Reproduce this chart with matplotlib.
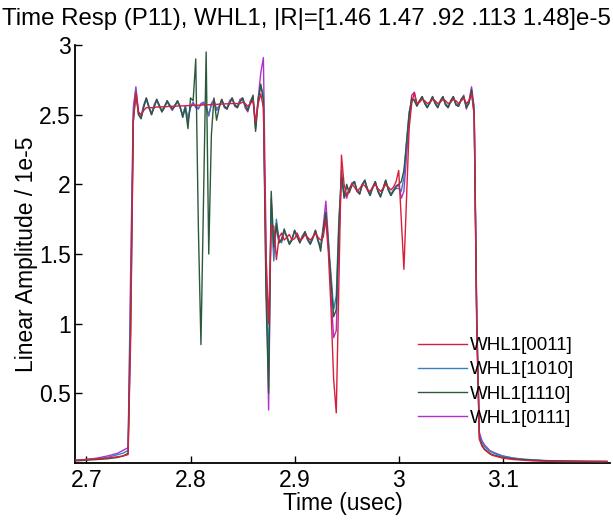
import matplotlib
matplotlib.use("Agg")
import matplotlib.pyplot as plt

plt.rcParams['font.family'] = ['Liberation Sans', 'DejaVu Sans']

TITLE = "Time Resp (P11), WHL1, |R|=[1.46 1.47 .92 .113 1.48]e-5"
XLABEL = "Time (usec)"
YLABEL = "Linear Amplitude / 1e-5"
LABELS = ["WHL1[0011]", "WHL1[1010]", "WHL1[1110]", "WHL1[0111]"]
COLORS = ["#d81e3c", "#3480c0", "#2a5a3a", "#b030cc"]
XTICKS = [2.7, 2.8, 2.9, 3.0, 3.1]
XTICKLABELS = ["2.7", "2.8", "2.9", "3", "3.1"]
YTICKS = [0.5, 1.0, 1.5, 2.0, 2.5, 3.0]
YTICKLABELS = ["0.5", "1", "1.5", "2", "2.5", "3"]

time_us = [
    2.69, 2.70, 2.71, 2.72, 2.73, 2.735, 2.74,
    2.7425, 2.745, 2.7475, 2.75, 2.7525, 2.755, 2.7575, 2.76, 2.7625, 2.765,
    2.7675, 2.77, 2.7725, 2.775, 2.7775, 2.78, 2.7825, 2.785, 2.7875, 2.79,
    2.7925, 2.795, 2.7975, 2.80, 2.8025, 2.805, 2.8075, 2.81, 2.8125, 2.815,
    2.8175, 2.82, 2.8225, 2.825, 2.8275, 2.83, 2.8325, 2.835, 2.8375, 2.84,
    2.8425, 2.845, 2.8475, 2.85, 2.8525, 2.855, 2.8575, 2.86, 2.8625, 2.865,
    2.8675, 2.87, 2.8725, 2.875, 2.8775, 2.88, 2.8825, 2.885, 2.8875, 2.89,
    2.8925, 2.895, 2.8975, 2.90, 2.9025, 2.905, 2.9075, 2.91, 2.9125, 2.915,
    2.9175, 2.92, 2.9225, 2.925, 2.9275, 2.93, 2.9325, 2.935, 2.9375, 2.94,
    2.9425, 2.945, 2.9475, 2.95, 2.9525, 2.955, 2.9575, 2.96, 2.9625, 2.965,
    2.9675, 2.97, 2.9725, 2.975, 2.9775, 2.98, 2.9825, 2.985, 2.9875, 2.99,
    2.9925, 2.995, 2.9975, 3.00, 3.0025, 3.005, 3.0075, 3.01, 3.0125, 3.015,
    3.0175, 3.02, 3.0225, 3.025, 3.0275, 3.03, 3.0325, 3.035, 3.0375, 3.04,
    3.0425, 3.045, 3.0475, 3.05, 3.0525, 3.055, 3.0575, 3.06, 3.0625, 3.065,
    3.0675, 3.07, 3.0725, 3.075, 3.0775, 3.08, 3.0825, 3.085, 3.0875, 3.09,
    3.095, 3.10, 3.11, 3.12, 3.13, 3.14, 3.16, 3.18, 3.20,
]

whl1_0011 = [
    0.02, 0.025, 0.03, 0.035, 0.045, 0.05, 0.06,
    0.90, 2.45, 2.66, 2.52, 2.50, 2.53, 2.55, 2.55, 2.55, 2.55,
    2.555, 2.555, 2.556, 2.557, 2.558, 2.56, 2.56, 2.561, 2.562, 2.563,
    2.563, 2.564, 2.565, 2.566, 2.567, 2.568, 2.568, 2.569, 2.57, 2.57,
    2.571, 2.572, 2.573, 2.574, 2.575, 2.576, 2.577, 2.578, 2.58, 2.58,
    2.58, 2.58, 2.58, 2.59, 2.58, 2.56, 2.58, 2.60, 2.45, 2.58,
    2.65, 2.55, 1.50, 1.00, 1.70, 1.70, 1.46, 1.62, 1.65, 1.60,
    1.62, 1.64, 1.60, 1.61, 1.65, 1.60, 1.61, 1.64, 1.62, 1.60,
    1.62, 1.65, 1.62, 1.60, 1.62, 1.75, 1.50, 1.10, 0.60, 0.36,
    1.30, 2.21, 2.00, 1.92, 1.97, 2.00, 1.98, 1.95, 1.97, 2.00,
    1.99, 1.96, 1.95, 1.98, 2.00, 1.97, 1.95, 1.97, 2.00, 1.98,
    1.96, 1.98, 2.02, 2.10, 1.75, 1.39, 1.90, 2.40, 2.58, 2.66,
    2.58, 2.59, 2.61, 2.60, 2.58, 2.59, 2.61, 2.60, 2.58, 2.59,
    2.61, 2.60, 2.58, 2.59, 2.61, 2.60, 2.58, 2.60, 2.62, 2.58,
    2.60, 2.65, 2.50, 0.95, 0.17, 0.12, 0.095, 0.08, 0.065, 0.055,
    0.045, 0.035, 0.025, 0.02, 0.015, 0.013, 0.01, 0.01, 0.01,
]

whl1_1010 = [
    0.02, 0.025, 0.03, 0.04, 0.06, 0.07, 0.09,
    1.20, 2.50, 2.68, 2.50, 2.48, 2.56, 2.61, 2.55, 2.51, 2.56,
    2.60, 2.56, 2.53, 2.56, 2.59, 2.56, 2.54, 2.57, 2.59, 2.55,
    2.50, 2.56, 2.47, 2.55, 2.58, 2.56, 2.55, 2.57, 2.58, 2.56,
    2.50, 2.57, 2.60, 2.54, 2.56, 2.60, 2.56, 2.55, 2.59, 2.61,
    2.57, 2.56, 2.60, 2.61, 2.56, 2.54, 2.59, 2.62, 2.42, 2.62,
    2.70, 2.65, 1.30, 0.70, 1.85, 1.45, 1.75, 1.60, 1.58, 1.66,
    1.63, 1.58, 1.61, 1.66, 1.62, 1.59, 1.63, 1.65, 1.60, 1.58,
    1.62, 1.66, 1.59, 1.55, 1.66, 1.78, 1.58, 1.35, 1.10, 1.20,
    1.75, 2.05, 1.92, 1.98, 1.95, 2.00, 2.01, 1.96, 1.94, 1.99,
    2.02, 1.97, 1.93, 1.97, 2.01, 1.96, 1.92, 1.96, 2.02, 1.97,
    1.93, 1.96, 1.97, 1.97, 1.95, 2.05, 2.30, 2.52, 2.60, 2.61,
    2.57, 2.59, 2.62, 2.59, 2.56, 2.58, 2.62, 2.59, 2.56, 2.59,
    2.62, 2.58, 2.56, 2.59, 2.62, 2.58, 2.57, 2.60, 2.62, 2.56,
    2.59, 2.66, 2.55, 1.05, 0.20, 0.15, 0.12, 0.10, 0.085, 0.075,
    0.06, 0.05, 0.035, 0.028, 0.022, 0.018, 0.014, 0.012, 0.01,
]

whl1_1110 = [
    0.015, 0.02, 0.025, 0.03, 0.04, 0.05, 0.07,
    1.00, 2.45, 2.65, 2.50, 2.47, 2.55, 2.62, 2.56, 2.50, 2.55,
    2.61, 2.57, 2.52, 2.55, 2.60, 2.57, 2.54, 2.56, 2.60, 2.56,
    2.48, 2.55, 2.40, 2.62, 2.60, 2.90, 1.70, 0.85, 1.90, 2.95,
    1.50, 2.35, 2.62, 2.46, 2.55, 2.61, 2.56, 2.54, 2.58, 2.62,
    2.57, 2.55, 2.59, 2.62, 2.57, 2.53, 2.58, 2.64, 2.38, 2.60,
    2.72, 2.60, 1.20, 0.50, 1.95, 1.55, 1.72, 1.58, 1.60, 1.68,
    1.62, 1.57, 1.60, 1.67, 1.63, 1.58, 1.62, 1.66, 1.61, 1.57,
    1.61, 1.67, 1.60, 1.52, 1.68, 1.80, 1.55, 1.30, 1.05, 1.10,
    1.70, 2.10, 1.90, 2.00, 1.94, 1.99, 2.02, 1.95, 1.93, 2.00,
    2.03, 1.96, 1.92, 1.98, 2.02, 1.95, 1.91, 1.97, 2.03, 1.96,
    1.92, 1.95, 1.98, 2.00, 2.02, 2.10, 2.30, 2.50, 2.62, 2.60,
    2.56, 2.60, 2.63, 2.58, 2.55, 2.59, 2.63, 2.58, 2.55, 2.60,
    2.63, 2.57, 2.55, 2.60, 2.63, 2.57, 2.56, 2.61, 2.63, 2.55,
    2.58, 2.68, 2.50, 1.00, 0.18, 0.13, 0.10, 0.085, 0.07, 0.06,
    0.05, 0.04, 0.03, 0.024, 0.02, 0.017, 0.014, 0.012, 0.012,
]

whl1_0111 = [
    0.02, 0.025, 0.035, 0.05, 0.07, 0.09, 0.11,
    1.40, 2.55, 2.70, 2.52, 2.49, 2.57, 2.62, 2.55, 2.50, 2.57,
    2.61, 2.56, 2.52, 2.56, 2.60, 2.56, 2.53, 2.57, 2.60, 2.55,
    2.49, 2.56, 2.45, 2.56, 2.59, 2.55, 2.54, 2.58, 2.59, 2.55,
    2.49, 2.58, 2.61, 2.53, 2.56, 2.61, 2.55, 2.54, 2.60, 2.62,
    2.56, 2.55, 2.61, 2.62, 2.55, 2.52, 2.60, 2.63, 2.40, 2.62,
    2.80, 2.91, 1.60, 0.38, 1.90, 1.50, 1.70, 1.58, 1.61, 1.67,
    1.62, 1.57, 1.61, 1.67, 1.62, 1.58, 1.63, 1.66, 1.60, 1.57,
    1.62, 1.67, 1.60, 1.55, 1.70, 1.88, 1.60, 1.20, 0.90, 0.95,
    1.60, 2.05, 1.95, 1.90, 1.96, 2.01, 2.02, 1.95, 1.93, 2.00,
    2.03, 1.96, 1.92, 1.98, 2.02, 1.95, 1.91, 1.97, 2.03, 1.96,
    1.92, 1.96, 1.99, 2.00, 1.90, 1.95, 2.20, 2.45, 2.64, 2.66,
    2.57, 2.60, 2.63, 2.58, 2.55, 2.59, 2.63, 2.58, 2.55, 2.60,
    2.63, 2.57, 2.55, 2.60, 2.63, 2.57, 2.56, 2.61, 2.64, 2.54,
    2.60, 2.70, 2.55, 1.02, 0.22, 0.16, 0.13, 0.11, 0.09, 0.08,
    0.065, 0.05, 0.035, 0.025, 0.02, 0.016, 0.013, 0.011, 0.01,
]

SERIES = [whl1_0011, whl1_1010, whl1_1110, whl1_0111]
DRAW_ORDER = [3, 1, 2, 0]

W, H = 613, 523
fig = plt.figure(figsize=(W / 100, H / 100), dpi=100)
ax = fig.add_axes([75 / W, 1 - 463 / H, (610 - 75) / W, (463 - 45) / H])

handles = [None] * 4
for k in DRAW_ORDER:
    (ln,) = ax.plot(time_us, SERIES[k], color=COLORS[k], lw=1.0, label=LABELS[k],
                    zorder=2 + DRAW_ORDER.index(k))
    handles[k] = ln

ax.set_xlim(2.689, 3.203)
ax.set_ylim(0, 3)
ax.set_xticks(XTICKS)
ax.set_xticklabels(XTICKLABELS)
ax.set_yticks(YTICKS)
ax.set_yticklabels(YTICKLABELS)
ax.spines['top'].set_visible(False)
ax.spines['right'].set_visible(False)
for s in ('left', 'bottom'):
    ax.spines[s].set_linewidth(1.3)
ax.tick_params(axis='both', direction='in', length=5, width=1, labelsize=16.5)
ax.tick_params(axis='x', pad=4)
ax.tick_params(axis='y', pad=3)

ax.set_xlabel(XLABEL, fontsize=16.5, labelpad=0)
ax.set_ylabel(YLABEL, fontsize=16.5, labelpad=1)

fig.text(2 / W, 1 - 19 / H, TITLE, fontsize=17.3, ha='left', va='center')

leg = ax.legend(handles, LABELS, loc='center left',
                bbox_to_anchor=(418 / W, 1 - 382 / H), bbox_transform=fig.transFigure,
                frameon=False, fontsize=13.5, handlelength=2.6, handletextpad=0.15,
                labelspacing=0.38, borderpad=0, borderaxespad=0)

fig.savefig("out.png", dpi=100)
